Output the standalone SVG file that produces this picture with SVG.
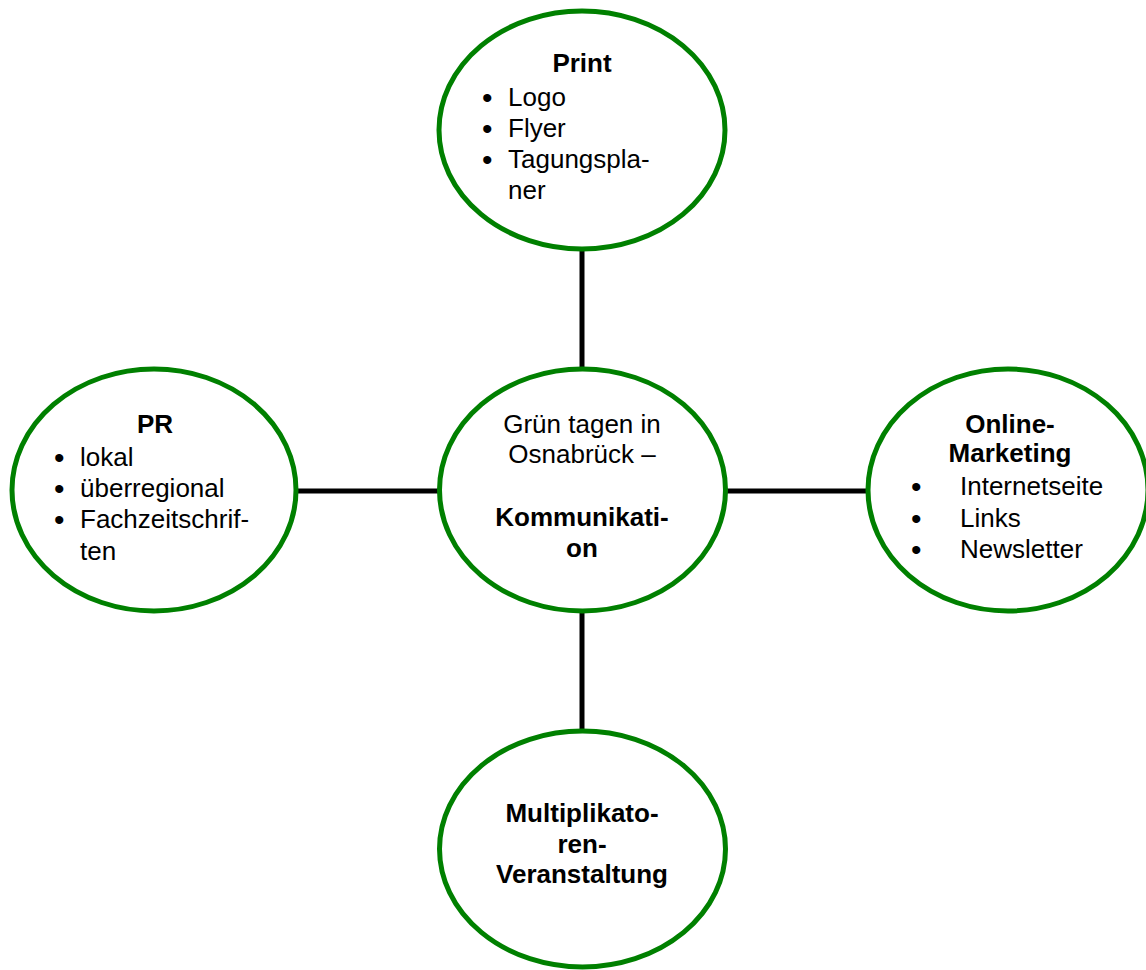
<svg xmlns="http://www.w3.org/2000/svg" width="1146" height="970" viewBox="0 0 1146 970">
<style>
.n{fill:#fff;stroke:#008000;stroke-width:5}
.c{stroke:#000;stroke-width:5;fill:none}
text{font-family:"Liberation Sans",Arial,sans-serif;font-size:26px;fill:#000}
.b{font-weight:bold}
.m{text-anchor:middle}
.d{font-size:30px}
</style>
<rect width="1146" height="970" fill="#fff"/>
<g id="connectors">
<line class="c" x1="582" y1="248" x2="582" y2="370"/>
<line class="c" x1="582" y1="610" x2="582" y2="732"/>
<line class="c" x1="296" y1="491" x2="440" y2="491"/>
<line class="c" x1="725" y1="491" x2="868" y2="491"/>
</g>
<g id="print">
<ellipse class="n" cx="582" cy="130" rx="143" ry="119"/>
<text class="b m" x="582" y="72">Print</text>
<text class="d" x="482" y="108">•</text><text x="508" y="106">Logo</text>
<text class="d" x="482" y="139">•</text><text x="508" y="137">Flyer</text>
<text class="d" x="482" y="170">•</text><text x="508" y="168">Tagungspla-</text>
<text x="508" y="199">ner</text>
</g>
<g id="pr">
<ellipse class="n" cx="154" cy="490" rx="142" ry="121"/>
<text class="b m" x="155" y="433">PR</text>
<text class="d" x="54" y="468">•</text><text x="80" y="466">lokal</text>
<text class="d" x="54" y="499">•</text><text x="80" y="497">überregional</text>
<text class="d" x="54" y="530">•</text><text x="80" y="528">Fachzeitschrif-</text>
<text x="80" y="560">ten</text>
</g>
<g id="center">
<ellipse class="n" cx="582.5" cy="490" rx="143" ry="121"/>
<text class="m" x="582" y="433">Grün tagen in</text>
<text class="m" x="582" y="463">Osnabrück –</text>
<text class="b m" x="582" y="526">Kommunikati-</text>
<text class="b m" x="582" y="557">on</text>
</g>
<g id="online">
<ellipse class="n" cx="1008" cy="490" rx="140" ry="121"/>
<text class="b m" x="1010" y="433">Online-</text>
<text class="b m" x="1010" y="462">Marketing</text>
<text class="d" x="911" y="497">•</text><text x="960" y="495">Internetseite</text>
<text class="d" x="911" y="529">•</text><text x="960" y="527">Links</text>
<text class="d" x="911" y="560">•</text><text x="960" y="558">Newsletter</text>
</g>
<g id="multiplikatoren">
<ellipse class="n" cx="582.5" cy="849" rx="143" ry="118"/>
<text class="b m" x="582" y="822">Multiplikato-</text>
<text class="b m" x="582" y="853">ren-</text>
<text class="b m" x="582" y="883">Veranstaltung</text>
</g>
</svg>
